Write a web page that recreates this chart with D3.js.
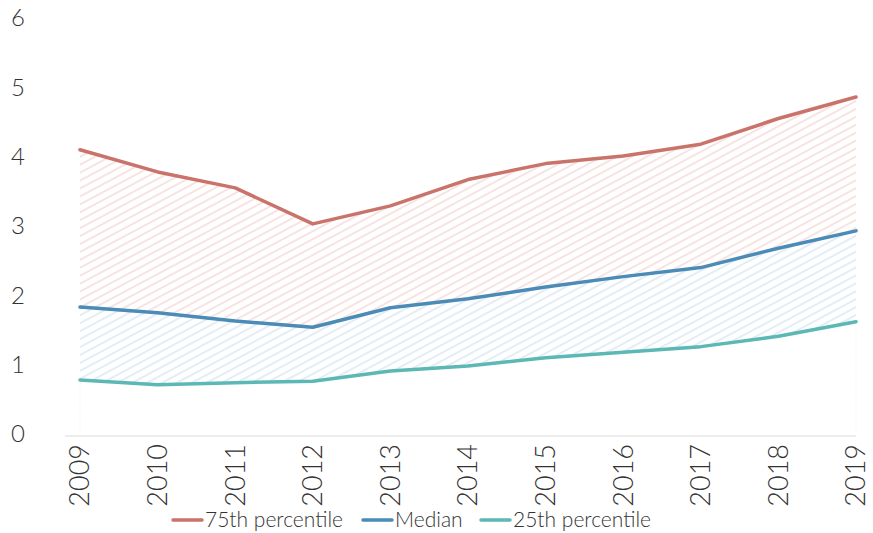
<!DOCTYPE html>
<html>
<head>
<meta charset="utf-8">
<script src="https://cdn.jsdelivr.net/npm/d3@7"></script>
<style>
  body { margin: 0; background: #fff; }
  svg text { font-family: Lato, sans-serif; font-weight: 300; fill: #333; }
</style>
</head>
<body>
<div id="chart"></div>
<script>
var years = [2009, 2010, 2011, 2012, 2013, 2014, 2015, 2016, 2017, 2018, 2019];
var p75 = [4.10, 3.78, 3.55, 3.03, 3.29, 3.67, 3.90, 4.01, 4.18, 4.55, 4.86];
var median = [1.83, 1.75, 1.63, 1.54, 1.82, 1.95, 2.12, 2.27, 2.40, 2.68, 2.93];
var p25 = [0.78, 0.71, 0.74, 0.76, 0.91, 0.98, 1.10, 1.18, 1.26, 1.41, 1.62];
var yTicks = [0, 1, 2, 3, 4, 5, 6];

var W = 873, H = 533;
var svg = d3.select("#chart").append("svg").attr("width", W).attr("height", H);

var x = d3.scalePoint().domain(years).range([80, 856]);
var y = d3.scaleLinear().domain([0, 6]).range([434, 18]);

// hatch patterns
var defs = svg.append("defs");
function hatch(id, color){
    var p = defs.append("pattern")
        .attr("id", id)
        .attr("patternUnits", "userSpaceOnUse")
        .attr("width", 7).attr("height", 7)
        .attr("patternTransform", "rotate(62)");
    p.append("line")
        .attr("x1", 1).attr("y1", 0).attr("x2", 1).attr("y2", 7)
        .attr("stroke", color).attr("stroke-width", 1.2);
}
hatch("hatchRed", "#f2d2ce");
hatch("hatchBlue", "#cfe1f0");

var rows = years.map(function(yr, i){ return {year: yr, p75: p75[i], med: median[i], p25: p25[i]}; });

var bandTop = d3.area().x(function(d){ return x(d.year); })
    .y0(function(d){ return y(d.med); }).y1(function(d){ return y(d.p75); });
var bandBot = d3.area().x(function(d){ return x(d.year); })
    .y0(function(d){ return y(d.p25); }).y1(function(d){ return y(d.med); });

svg.append("path").datum(rows).attr("d", bandTop).attr("fill", "url(#hatchRed)");
svg.append("path").datum(rows).attr("d", bandBot).attr("fill", "url(#hatchBlue)");

// faint dotted edges under the low band
[0, years.length - 1].forEach(function(i){
    svg.append("line")
        .attr("x1", x(years[i])).attr("x2", x(years[i]))
        .attr("y1", y(p25[i])).attr("y2", y(0))
        .attr("stroke", "#eee").attr("stroke-dasharray", "1,2");
});

// x axis line
svg.append("line")
    .attr("x1", 65).attr("x2", 856)
    .attr("y1", y(0) + 2).attr("y2", y(0) + 2)
    .attr("stroke", "#d9d9d9").attr("stroke-width", 1.2);

// y tick labels
svg.selectAll(".ytick").data(yTicks).enter().append("text")
    .attr("class", "ytick")
    .attr("x", 18).attr("y", function(d){ return y(d); })
    .attr("dy", "0.35em")
    .attr("text-anchor", "middle")
    .attr("font-size", 24)
    .text(function(d){ return d; });

// x tick labels
svg.selectAll(".xtick").data(years).enter().append("text")
    .attr("class", "xtick")
    .attr("transform", function(d){ return "translate(" + x(d) + ",444) rotate(-90)"; })
    .attr("dy", "0.35em")
    .attr("text-anchor", "end")
    .attr("font-size", 27)
    .text(function(d){ return d; });

var series = [
    {name: "75th percentile", values: p75, color: "#c9736a"},
    {name: "Median", values: median, color: "#4a8bb8"},
    {name: "25th percentile", values: p25, color: "#5bb8b4"}
];

var line = d3.line().x(function(d, i){ return x(years[i]); }).y(function(d){ return y(d); });

series.forEach(function(s){
    svg.append("path").datum(s.values)
        .attr("d", line)
        .attr("fill", "none")
        .attr("stroke", s.color)
        .attr("stroke-width", 3.5)
        .attr("stroke-linecap", "round")
        .attr("stroke-linejoin", "round");
});

// legend
var legendX = [173, 363, 481];
series.forEach(function(s, i){
    var g = svg.append("g").attr("transform", "translate(" + legendX[i] + ",520)");
    g.append("line").attr("x1", 0).attr("x2", 29).attr("y1", 0).attr("y2", 0)
        .attr("stroke", s.color).attr("stroke-width", 3.5).attr("stroke-linecap", "round");
    g.append("text").attr("x", 32).attr("dy", "0.35em").attr("font-size", 21).text(s.name);
});
</script>
</body>
</html>
